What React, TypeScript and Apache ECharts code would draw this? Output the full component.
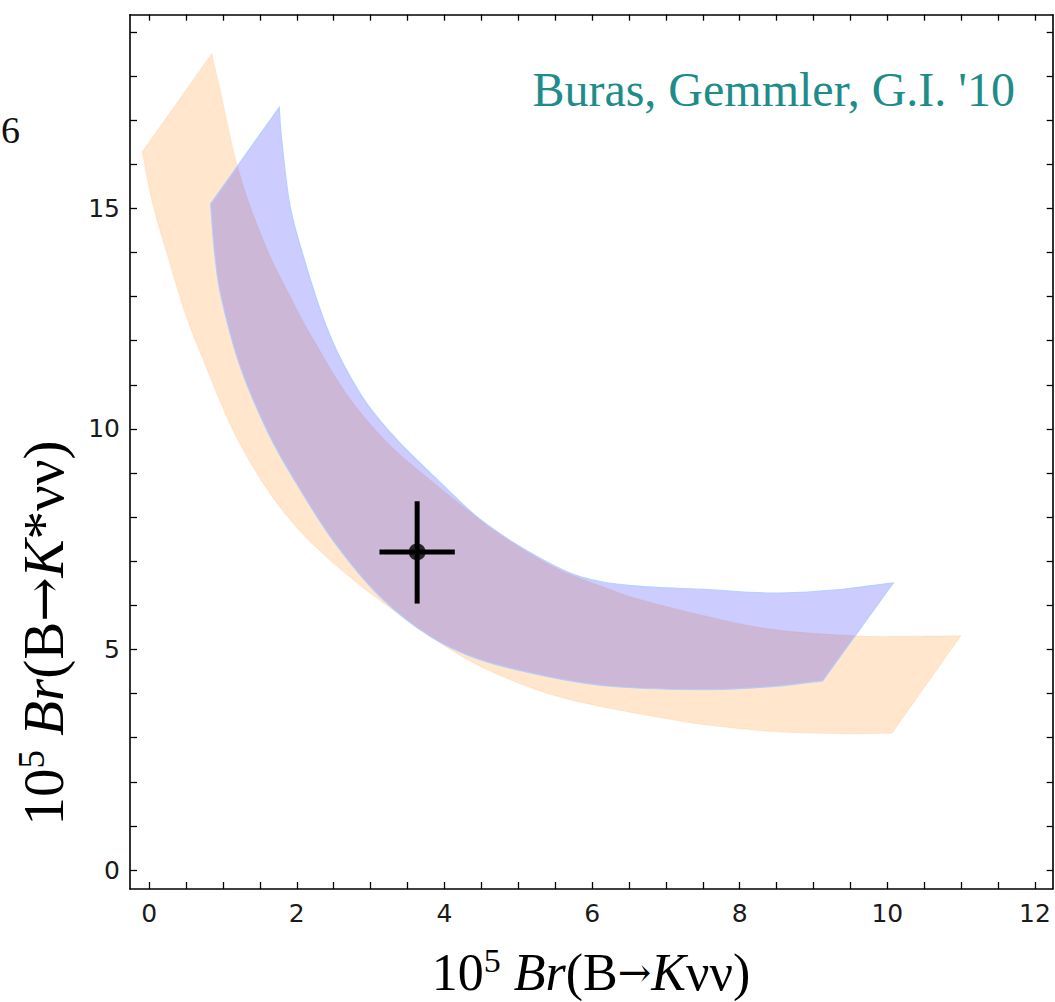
import React, { useEffect, useRef } from "react";
import * as echarts from "echarts";

// ---- Data ----
// Orange band (upper edge: left corner -> peak -> right corner)
const orangeUpperX = [-0.095, 0.846, 0.958, 1.093, 1.192, 1.364, 1.635, 1.907, 2.18, 2.675, 3.217, 3.8, 4.48, 5.385, 6.287, 6.649, 7.553, 8.455, 9.539, 10.263, 10.995];
const orangeUpperY = [16.28, 18.5, 17.71, 16.65, 15.97, 15.06, 13.92, 13.01, 12.15, 10.78, 9.7, 8.85, 7.95, 6.95, 6.33, 6.13, 5.75, 5.45, 5.31, 5.3, 5.31];
// Orange band lower edge (left corner -> right lower corner)
const orangeLowerX = [-0.095, 0.054, 0.236, 0.484, 0.755, 1.093, 1.364, 1.635, 1.907, 2.222, 2.764, 3.3, 3.804, 4.481, 5.385, 6.287, 7.19, 7.553, 8.455, 9.359, 10.06];
const orangeLowerY = [16.28, 15.06, 14.01, 12.64, 11.47, 10.12, 9.26, 8.54, 7.95, 7.38, 6.58, 5.9, 5.3, 4.62, 4.01, 3.65, 3.38, 3.29, 3.14, 3.09, 3.1];

// Blue band
const blueUpperX = [0.832, 1.762, 1.794, 1.907, 2.087, 2.268, 2.449, 2.652, 2.946, 3.352, 3.848, 4.481, 5.159, 5.836, 6.58, 7.553, 8.455, 9.359, 10.081];
const blueUpperY = [15.1, 17.29, 16.57, 15.06, 13.92, 12.94, 12.12, 11.4, 10.58, 9.76, 8.94, 7.95, 7.2, 6.65, 6.44, 6.36, 6.28, 6.36, 6.51];
const blueLowerX = [0.832, 0.89, 0.981, 1.229, 1.612, 2.0, 2.5, 3.126, 3.804, 4.481, 5.385, 6.287, 7.553, 8.455, 9.125];
const blueLowerY = [15.1, 13.92, 12.94, 11.43, 9.91, 8.75, 7.45, 6.2, 5.3, 4.77, 4.39, 4.16, 4.09, 4.16, 4.29];

// Measured point with error bars
const pointX = [3.63];
const pointY = [7.21];
const pointXErr = [0.51];
const pointYErrUp = [1.15];
const pointYErrDown = [1.17];

// Axes
const xMin = -0.26;
const xMax = 12.24;
const yMin = -0.43;
const yMax = 19.39;
const xTickLabels = [0, 2, 4, 6, 8, 10, 12];
const xTicks = [0, 0.5, 1, 1.5, 2, 2.5, 3, 3.5, 4, 4.5, 5, 5.5, 6, 6.5, 7, 7.5, 8, 8.5, 9, 9.5, 10, 10.5, 11, 11.5, 12];
const yTickLabels = [0, 5, 10, 15];
const yTicks = [0, 1, 2, 3, 4, 5, 6, 7, 8, 9, 10, 11, 12, 13, 14, 15, 16, 17, 18, 19];

const zip = (xs: number[], ys: number[]) => xs.map((x, i) => [x, ys[i]]);
const orangeUpper = zip(orangeUpperX, orangeUpperY);
const orangeLower = zip(orangeLowerX, orangeLowerY);
const blueUpper = zip(blueUpperX, blueUpperY);
const blueLower = zip(blueLowerX, blueLowerY);

// Smooth curve through pixel points (Catmull-Rom as cubic Beziers); current point must be pts[0]
function smoothThrough(ctx: any, pts: number[][]) {
  for (let i = 0; i < pts.length - 1; i++) {
    const p0 = pts[i - 1] || pts[i];
    const p1 = pts[i];
    const p2 = pts[i + 1];
    const p3 = pts[i + 2] || pts[i + 1];
    ctx.bezierCurveTo(
      p1[0] + (p2[0] - p0[0]) / 6, p1[1] + (p2[1] - p0[1]) / 6,
      p2[0] - (p3[0] - p1[0]) / 6, p2[1] - (p3[1] - p1[1]) / 6,
      p2[0], p2[1]
    );
  }
}

let hasSmoothBand = false;
try {
  const ext = (echarts.graphic as any).extendShape;
  if (ext) {
    const Band = ext({
      type: "smoothBand",
      shape: { upper: [], lower: [] },
      buildPath(ctx: any, shape: any) {
        const up: number[][] = shape.upper;
        const lo: number[][] = shape.lower;
        if (!up.length || !lo.length) return;
        ctx.moveTo(up[0][0], up[0][1]);
        ctx.lineTo(up[1][0], up[1][1]);
        smoothThrough(ctx, up.slice(1));
        const lr = lo.slice().reverse();
        ctx.lineTo(lr[0][0], lr[0][1]);
        smoothThrough(ctx, lr);
        ctx.closePath();
      },
    });
    echarts.graphic.registerShape("smoothBand", Band);
    hasSmoothBand = true;
  }
} catch (e) {
  hasSmoothBand = false;
}

const bandSeries = (name: string, upper: number[][], lower: number[][], fill: string, stroke: string, z: number) => ({
  type: "custom",
  name,
  data: [...upper, ...lower],
  encode: { x: 0, y: 1 },
  z,
  silent: true,
  clip: true,
  renderItem: (params: any, api: any) => {
    if (params.dataIndex !== 0) return null;
    const up = upper.map((p) => api.coord(p));
    const lo = lower.map((p) => api.coord(p));
    const style = { fill, stroke, lineWidth: 1.2 };
    if (hasSmoothBand) {
      return { type: "smoothBand", shape: { upper: up, lower: lo }, style };
    }
    return { type: "polygon", shape: { points: [...up, ...lo.slice(1).reverse()] }, style };
  },
});

const axisLineStyle = { color: "#000", width: 1.6 };
const tickLabelStyle = { fontFamily: "DejaVu Sans", fontSize: 25, color: "#1a1a1a" };

export default function App() {
  const ref = useRef<HTMLDivElement>(null);
  useEffect(() => {
    if (!ref.current) return;
    const chart = echarts.init(ref.current, null, { renderer: "svg" });
    const option: any = {
      animation: false,
      backgroundColor: "#fff",
      grid: { left: 130, right: 2.3, top: 14.7, bottom: 113, containLabel: false },
      xAxis: [
        {
          type: "value", position: "bottom", min: xMin, max: xMax,
          axisLine: { show: true, onZero: false, lineStyle: axisLineStyle },
          axisTick: { show: true, inside: true, length: 7, customValues: xTicks, lineStyle: { color: "#000", width: 1.3 } },
          axisLabel: { show: true, customValues: xTickLabels, margin: 12, ...tickLabelStyle },
          splitLine: { show: false },
        },
        {
          type: "value", position: "top", min: xMin, max: xMax,
          axisLine: { show: true, onZero: false, lineStyle: axisLineStyle },
          axisTick: { show: true, inside: true, length: 6, customValues: xTicks, lineStyle: { color: "#000", width: 1.3 } },
          axisLabel: { show: false },
          splitLine: { show: false },
        },
      ],
      yAxis: [
        {
          type: "value", position: "left", min: yMin, max: yMax,
          axisLine: { show: true, onZero: false, lineStyle: axisLineStyle },
          axisTick: { show: true, inside: true, length: 7, customValues: yTicks, lineStyle: { color: "#000", width: 1.3 } },
          axisLabel: { show: true, customValues: yTickLabels, margin: 10, ...tickLabelStyle },
          splitLine: { show: false },
        },
        {
          type: "value", position: "right", min: yMin, max: yMax,
          axisLine: { show: true, onZero: false, lineStyle: axisLineStyle },
          axisTick: { show: true, inside: true, length: 6, customValues: yTicks, lineStyle: { color: "#000", width: 1.3 } },
          axisLabel: { show: false },
          splitLine: { show: false },
        },
      ],
      series: [
        bandSeries("orange band", orangeUpper, orangeLower, "rgba(255,128,0,0.2)", "rgba(255,200,150,0.25)", 1),
        bandSeries("blue band", blueUpper, blueLower, "rgba(0,0,255,0.2)", "rgba(175,205,255,0.9)", 2),
        {
          type: "custom",
          name: "error bars",
          data: pointX.map((x, i) => [x, pointY[i], pointXErr[i], pointYErrUp[i], pointYErrDown[i]]),
          encode: { x: 0, y: 1 },
          z: 5,
          renderItem: (params: any, api: any) => {
            const x = api.value(0), y = api.value(1);
            const ex = api.value(2), eu = api.value(3), ed = api.value(4);
            const l = api.coord([x - ex, y]);
            const r = api.coord([x + ex, y]);
            const t = api.coord([x, y + eu]);
            const b = api.coord([x, y - ed]);
            return {
              type: "group",
              children: [
                { type: "line", shape: { x1: l[0], y1: l[1], x2: r[0], y2: r[1] }, style: { stroke: "#000", lineWidth: 5 } },
                { type: "line", shape: { x1: t[0], y1: t[1], x2: b[0], y2: b[1] }, style: { stroke: "#000", lineWidth: 5 } },
              ],
            };
          },
        },
        {
          type: "scatter",
          name: "measurement",
          data: pointX.map((x, i) => [x, pointY[i]]),
          symbol: "circle",
          symbolSize: 17,
          itemStyle: { color: "#000" },
          z: 6,
        },
      ],
      graphic: [
        {
          type: "text", x: 1015, y: 89, z: 10,
          style: { text: "Buras, Gemmler, G.I. '10", fill: "#1e8c8a", font: "48px 'Liberation Serif'", align: "right", verticalAlign: "middle" },
        },
        {
          type: "text", x: 10.5, y: 130, z: 10,
          style: { text: "6", fill: "#111", font: "38px 'Liberation Serif'", align: "center", verticalAlign: "middle" },
        },
        {
          type: "text", x: 591, y: 972, z: 10,
          style: {
            text: "{n|10}{s|5}{n| }{i|Br}{n|(B}{a|\u2192}{i|K}{n|\u03bd\u03bd)}",
            align: "center", verticalAlign: "middle",
            rich: {
              n: { fontFamily: "Liberation Serif", fontSize: 52, fill: "#000", lineHeight: 58 },
              a: { fontFamily: "DejaVu Serif", fontSize: 40, fill: "#000", lineHeight: 58 },
              i: { fontFamily: "Liberation Serif", fontStyle: "italic", fontSize: 52, fill: "#000", lineHeight: 58 },
              s: { fontFamily: "Liberation Serif", fontSize: 34, fill: "#000", lineHeight: 30, verticalAlign: "top" },
            },
          },
        },
        {
          type: "text", x: 43, y: 633, z: 10, rotation: Math.PI / 2,
          style: {
            text: "{n|10}{s|5}{n| }{i|Br}{n|(B}{a|\u2192}{i|K}{n|*\u03bd\u03bd)}",
            align: "center", verticalAlign: "middle",
            rich: {
              n: { fontFamily: "Liberation Serif", fontSize: 57, fill: "#000", lineHeight: 61 },
              a: { fontFamily: "DejaVu Serif", fontSize: 53, fill: "#000", lineHeight: 61 },
              i: { fontFamily: "Liberation Serif", fontStyle: "italic", fontSize: 57, fill: "#000", lineHeight: 61 },
              s: { fontFamily: "Liberation Serif", fontSize: 37, fill: "#000", lineHeight: 30, verticalAlign: "top" },
            },
          },
        },
      ],
    };
    chart.setOption(option);
    return () => chart.dispose();
  }, []);
  return <div ref={ref} style={{ position: "fixed", left: 0, top: 0, width: 1055, height: 1002 }} />;
}
